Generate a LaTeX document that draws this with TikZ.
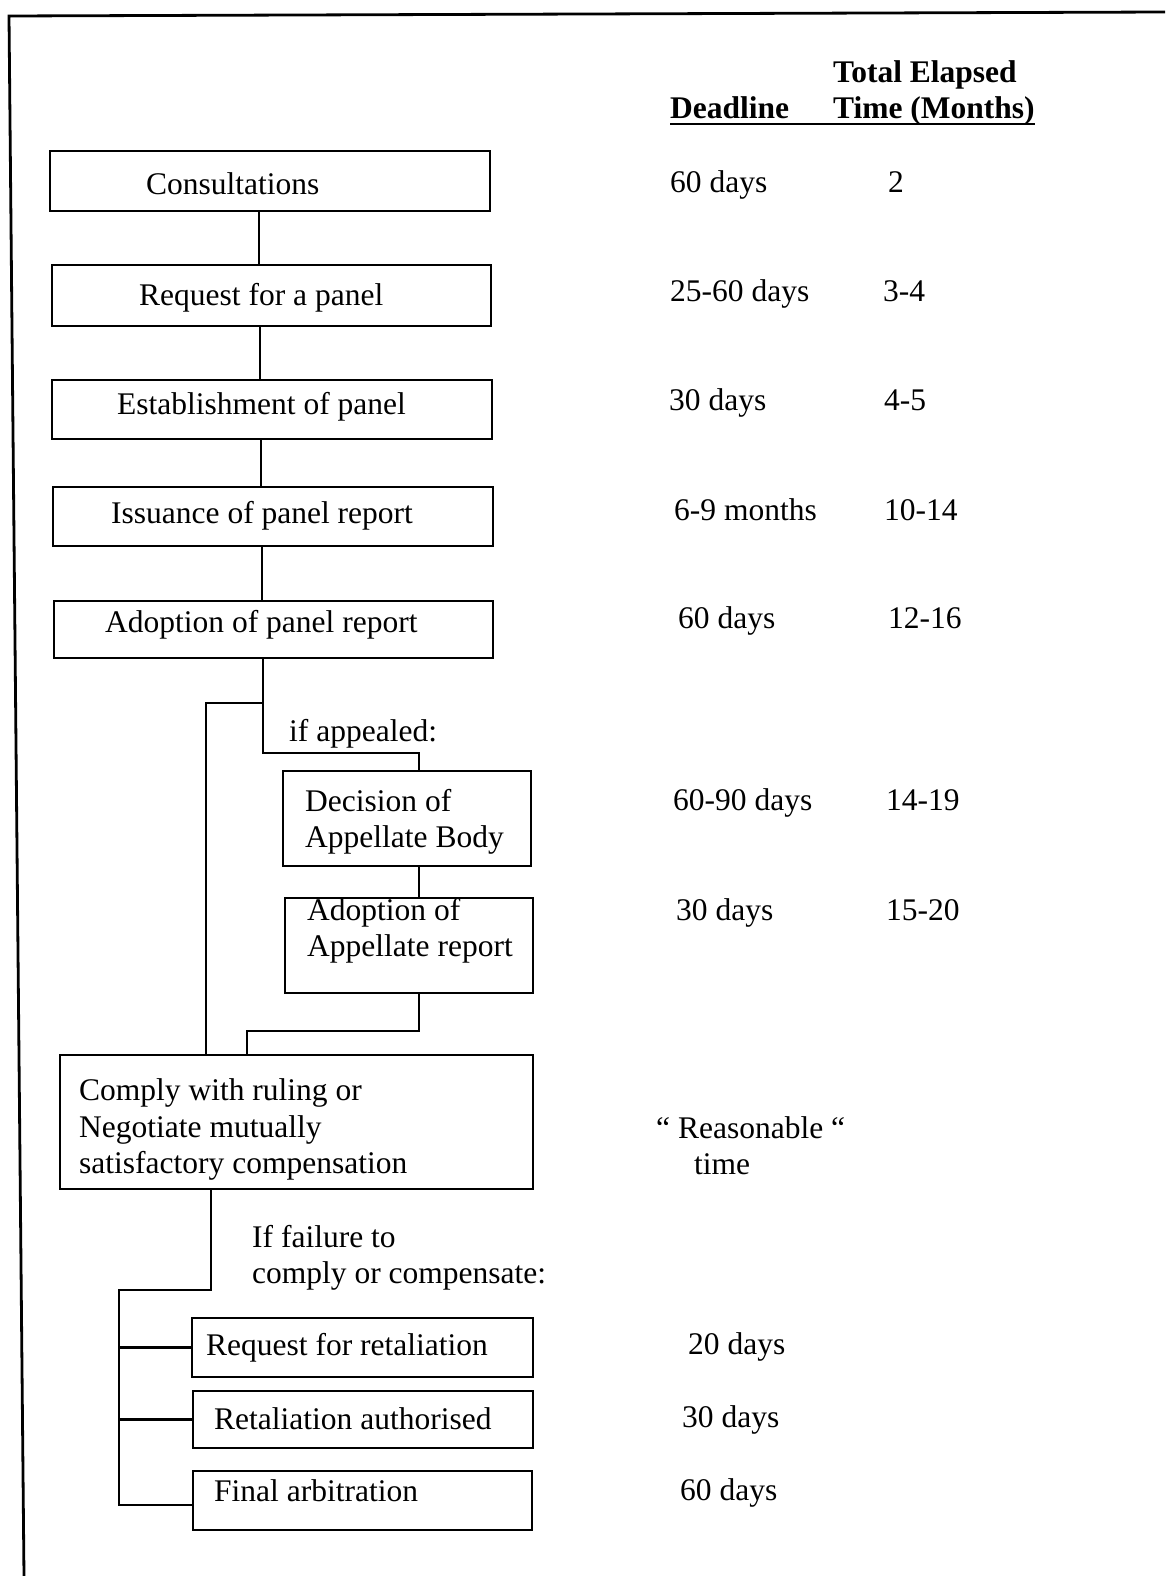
\documentclass[tikz,border=0pt]{standalone}
\usepackage{fontspec}
\setmainfont{Liberation Serif}
\begin{document}
\begin{tikzpicture}[x=1pt,y=-1pt,
  stage/.style={draw, rectangle, line width=2.9pt, inner sep=0pt},
  txt/.style={anchor=base west, inner sep=0pt, font=\fontsize{31.5}{36}\selectfont},
  head/.style={txt, font=\fontsize{31.5}{36}\selectfont\bfseries},
  link/.style={line width=2.6pt},
]
\useasboundingbox (0,0) rectangle (1165,1576);

% page frame (top and left edges)
\coordinate (fr) at (1165,12);
\coordinate (fc) at (9,16);
\coordinate (fb) at (24,1576);
\draw[line width=2.8pt] (fr) -- (fc) -- (fb);

% column headings
\node[head] (htot) at (833,83) {Total Elapsed};
\node[head] (hdl)  at (670,119) {Deadline};
\node[head] (htm)  at (833,119) {Time (Months)};
\draw[line width=2.6pt] ([yshift=-5pt]hdl.base west) -- ([yshift=-5pt]htm.base east);

% stage boxes
\node[stage, minimum width=440pt, minimum height=60pt] (cons)   at (270,181) {};
\node[stage, minimum width=439pt, minimum height=61pt] (req)    at (271.5,295.5) {};
\node[stage, minimum width=440pt, minimum height=59pt] (est)    at (272,409.5) {};
\node[stage, minimum width=440pt, minimum height=59pt] (iss)    at (273,516.5) {};
\node[stage, minimum width=439pt, minimum height=57pt] (adp)    at (273.5,629.5) {};
\node[stage, minimum width=248pt, minimum height=95pt] (dec)    at (407,818.5) {};
\node[stage, minimum width=248pt, minimum height=95pt] (aar)    at (409,945.5) {};
\node[stage, minimum width=473pt, minimum height=134pt] (comply) at (296.5,1122) {};
\node[stage, minimum width=341pt, minimum height=59pt] (rr)     at (362.5,1347.5) {};
\node[stage, minimum width=340pt, minimum height=57pt] (ra)     at (363,1419.5) {};
\node[stage, minimum width=339pt, minimum height=59pt] (fa)     at (362.5,1500.5) {};

% box texts
\node[txt] (tcons) at (146,194) {Consultations};
\node[txt] (treq)  at (139,305) {Request for a panel};
\node[txt] (test)  at (117,414) {Establishment of panel};
\node[txt] (tiss)  at (111,523) {Issuance of panel report};
\node[txt] (tadp)  at (105,632) {Adoption of panel report};
\node[txt] (tdec1) at (305,811) {Decision of};
\node[txt] (tdec2) at (305,847) {Appellate Body};
\node[txt] (taar1) at (307,920) {Adoption of};
\node[txt] (taar2) at (307,956) {Appellate report};
\node[txt] (tco1)  at (79,1100) {Comply with ruling or};
\node[txt] (tco2)  at (79,1137) {Negotiate mutually};
\node[txt] (tco3)  at (79,1173) {satisfactory compensation};
\node[txt] (trr)   at (206,1355) {Request for retaliation};
\node[txt] (tra)   at (214,1429) {Retaliation authorised};
\node[txt] (tfa)   at (214,1501) {Final arbitration};

% condition labels
\node[txt] (lapp)  at (289,741) {if appealed:};
\node[txt] (lfail1) at (252,1247) {If failure to};
\node[txt] (lfail2) at (252,1283) {comply or compensate:};

% deadlines
\node[txt] (d1)  at (670,192)  {60 days};
\node[txt] (d2)  at (670,301)  {25-60 days};
\node[txt] (d3)  at (669,410)  {30 days};
\node[txt] (d4)  at (674,520)  {6-9 months};
\node[txt] (d5)  at (678,628)  {60 days};
\node[txt] (d6)  at (673,810)  {60-90 days};
\node[txt] (d7)  at (676,920)  {30 days};
\node[txt] (d8a) at (656,1138) {“ Reasonable “};
\node[txt] (d8b) at (694,1174) {time};
\node[txt] (d9)  at (688,1354) {20 days};
\node[txt] (d10) at (682,1427) {30 days};
\node[txt] (d11) at (680,1500) {60 days};

% total elapsed months
\node[txt] (m1) at (888,192) {2};
\node[txt] (m2) at (883,301) {3-4};
\node[txt] (m3) at (884,410) {4-5};
\node[txt] (m4) at (884,520) {10-14};
\node[txt] (m5) at (888,628) {12-16};
\node[txt] (m6) at (886,810) {14-19};
\node[txt] (m7) at (886,920) {15-20};

% connector routing points
\coordinate (x1) at (259,0);
\coordinate (x2) at (260,0);
\coordinate (x3) at (261,0);
\coordinate (x4) at (262,0);
\coordinate (j1) at (263,753);
\coordinate (b1) at (263,703);
\coordinate (xb) at (206,0);
\coordinate (xd) at (419,0);
\coordinate (j2) at (419,1031);
\coordinate (xe) at (247,0);
\coordinate (j3) at (211,1290);
\coordinate (j4) at (119,1505);

% main sequence
\draw[link] (cons.south -| x1) -- (req.north -| x1);
\draw[link] (req.south -| x2) -- (est.north -| x2);
\draw[link] (est.south -| x3) -- (iss.north -| x3);
\draw[link] (iss.south -| x4) -- (adp.north -| x4);
% appeal branch
\draw[link] (adp.south -| j1) -- (j1) -| (dec.north -| xd);
\draw[link] (dec.south -| xd) -- (aar.north -| xd);
\draw[link] (aar.south -| xd) -- (j2) -| (comply.north -| xe);
% no appeal
\draw[link] (b1) -| (comply.north -| xb);
% failure to comply
\draw[link] (comply.south -| j3) -- (j3) -| (j4) -- (fa.west |- j4);
\draw[link] (rr.west -| j4) -- (rr.west);
\draw[link] (ra.west -| j4) -- (ra.west);
\end{tikzpicture}
\end{document}
